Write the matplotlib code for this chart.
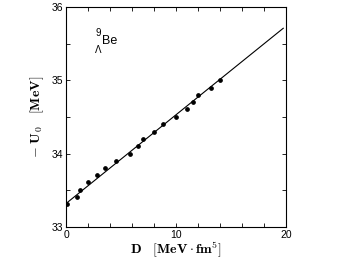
import numpy as np
import matplotlib.pyplot as plt
from matplotlib.ticker import MultipleLocator

plt.rcParams['mathtext.fontset'] = 'cm'
plt.rcParams['font.family'] = ['Liberation Sans', 'DejaVu Sans']

# data points
D = [0.05, 1.0, 1.3, 2.0, 2.8, 3.5, 4.5, 5.8, 6.5, 7.0, 8.0, 8.8,
     10.0, 11.0, 11.5, 12.0, 13.2, 14.0]
U0 = [33.31, 33.41, 33.50, 33.61, 33.71, 33.81, 33.90, 34.00, 34.11, 34.20,
      34.30, 34.40, 34.50, 34.61, 34.70, 34.80, 34.90, 35.00]

# fitted straight line
line_D = [0.0, 19.75]
line_U = [33.32, 35.71]

fig = plt.figure(figsize=(3.56, 2.67), dpi=100)
ax = fig.add_axes([66 / 356, 40 / 267, 220 / 356, 220 / 267])

ax.plot(line_D, line_U, color='black', linewidth=0.8)
ax.plot(D, U0, 'o', color='black', markersize=2.4)

ax.set_xlim(0, 20)
ax.set_ylim(33, 36)
ax.xaxis.set_major_locator(MultipleLocator(10))
ax.xaxis.set_minor_locator(MultipleLocator(2))
ax.yaxis.set_major_locator(MultipleLocator(1))
ax.yaxis.set_minor_locator(MultipleLocator(0.5))
ax.tick_params(which='both', direction='in', top=True, right=True,
               length=3, width=0.6, labelsize=7.5, pad=2)
for s in ax.spines.values():
    s.set_linewidth(0.8)

ax.set_xlabel(r'$\mathbf{D}\ \ \ [\mathbf{MeV}\cdot\mathbf{fm}^{5}]$', fontsize=10,
              va='center')
ax.xaxis.set_label_coords(0.5, -0.1)
ax.set_ylabel(r'$-\ \mathbf{U}_{0}\ \ \ [\mathbf{MeV}]$', fontsize=10, labelpad=4)

# hypernucleus label
ax.text(3.25, 35.53, 'Be', fontsize=9, ha='left', va='center')
ax.text(3.2, 35.64, '9', fontsize=7, ha='right', va='center')
ax.text(3.25, 35.41, 'Λ', fontsize=7, ha='right', va='center')

fig.savefig('out.png', dpi=100)
